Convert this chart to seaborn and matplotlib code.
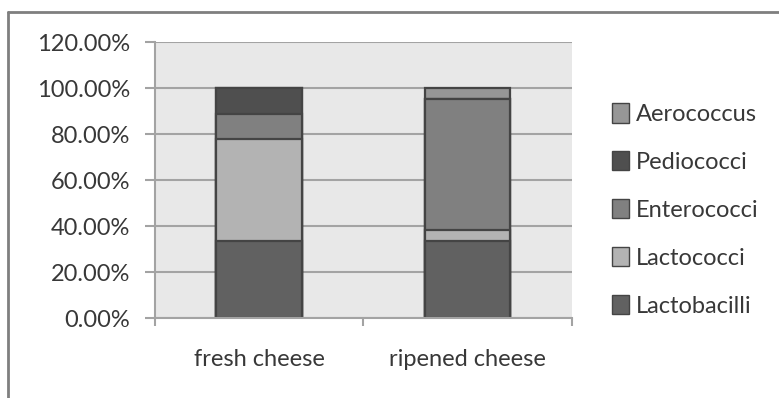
import numpy as np
import pandas as pd
import matplotlib
matplotlib.use("Agg")
import matplotlib.pyplot as plt
from matplotlib.lines import Line2D
from matplotlib.patches import Patch
from matplotlib.ticker import FuncFormatter, FixedLocator
import seaborn as sns

# Share of isolates per genus (%), by cheese type
categories = ["fresh cheese", "ripened cheese"]
genera = ["Lactobacilli", "Lactococci", "Enterococci", "Pediococci", "Aerococcus"]
lactobacilli = [33.33, 33.33]
lactococci = [44.44, 4.76]
enterococci = [11.11, 57.14]
pediococci = [11.12, 0.0]
aerococcus = [0.0, 4.77]
y_ticks = [0, 20, 40, 60, 80, 100, 120]

colors = {
    "Lactobacilli": "#616161",
    "Lactococci": "#b3b3b3",
    "Enterococci": "#808080",
    "Pediococci": "#4f4f4f",
    "Aerococcus": "#979797",
}
edge = "#444444"
text_color = "#383838"

sns.set_theme(style="white")
plt.rcParams["font.family"] = ["Lato", "DejaVu Sans"]

df = pd.DataFrame({
    "category": categories,
    "Lactobacilli": lactobacilli,
    "Lactococci": lactococci,
    "Enterococci": enterococci,
    "Pediococci": pediococci,
    "Aerococcus": aerococcus,
})
cum = df[genera].cumsum(axis=1)

fig = plt.figure(figsize=(7.79, 3.98), dpi=100)
fig.patch.set_facecolor("white")
ax = fig.add_axes([0.199, 0.201, 0.535, 0.693])
ax.set_facecolor("#e8e8e8")

# stacked bars: draw cumulative totals from the top segment down
for g in reversed(genera):
    vals = cum[g].values
    if np.all(df[g].values == 0):
        continue
    sns.barplot(x=df["category"], y=vals, ax=ax, color=colors[g], width=0.41,
                edgecolor=edge, linewidth=1.6, saturation=1)

ax.set_ylim(0, 120)
ax.set_xlim(-0.5, 1.5)
ax.yaxis.set_major_locator(FixedLocator(y_ticks))
ax.yaxis.set_major_formatter(FuncFormatter(lambda v, p: f"{v:.2f}%"))
ax.grid(axis="y", color="#a3a3a3", linewidth=1.5)
ax.set_axisbelow(True)
ax.set_xlabel("")
ax.set_ylabel("")

for s in ["top", "right"]:
    ax.spines[s].set_visible(False)
for s in ["left", "bottom"]:
    ax.spines[s].set_color("#a3a3a3")
    ax.spines[s].set_linewidth(1.5)

ax.tick_params(axis="y", length=7, width=1.5, color="#a3a3a3", pad=11,
               labelsize=17, labelcolor=text_color, left=True)
ax.tick_params(axis="x", which="major", length=0, pad=22,
               labelsize=17, labelcolor=text_color)
ax.set_xticks([-0.5, 0.5, 1.5], minor=True)
ax.tick_params(axis="x", which="minor", length=6, width=1.5, color="#a3a3a3",
               bottom=True)

handles = [Patch(facecolor=colors[g], edgecolor=edge, linewidth=1.0, label=g)
           for g in reversed(genera)]
leg = fig.legend(handles=handles, loc="upper left", bbox_to_anchor=(0.773, 0.765),
                 frameon=False, fontsize=17, labelcolor=text_color,
                 handlelength=0.72, handleheight=0.9, handletextpad=0.3,
                 labelspacing=1.1, borderaxespad=0)

# outer chart frame (top and left edges)
fig.add_artist(Line2D([8 / 779, 1.0], [1 - 12 / 398, 1 - 12 / 398],
                      transform=fig.transFigure, color="#7f7f7f", linewidth=2))
fig.add_artist(Line2D([8 / 779, 8 / 779], [0.0, 1 - 12 / 398],
                      transform=fig.transFigure, color="#7f7f7f", linewidth=2))

fig.savefig("out.png", dpi=100)
